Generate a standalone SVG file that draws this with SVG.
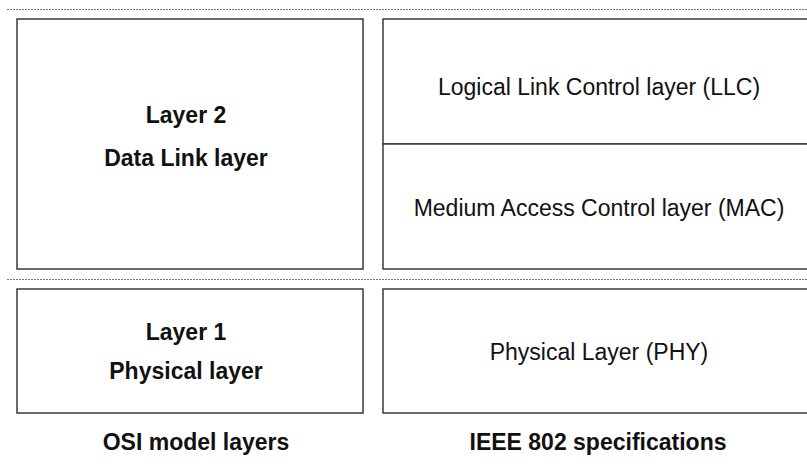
<svg xmlns="http://www.w3.org/2000/svg" width="807" height="464" viewBox="0 0 807 464">
<style>
.box{fill:#fff;stroke:#3a3a3a;stroke-width:1.5}
.sep{stroke:#777;stroke-width:1;stroke-dasharray:2 1;fill:none}
text{font-family:"Liberation Sans",Arial,sans-serif;font-size:23px;fill:#111;text-anchor:middle}
.b{font-weight:bold}
</style>
<rect width="807" height="464" fill="#fff"/>
<g id="separators">
<line class="sep" x1="7" y1="9.5" x2="807" y2="9.5"/>
<line class="sep" x1="7" y1="279.5" x2="807" y2="279.5"/>
</g>
<g id="layer2">
<rect class="box" x="17" y="19" width="346" height="250"/>
<text class="b" x="186" y="123">Layer 2</text>
<text class="b" x="186" y="166">Data Link layer</text>
</g>
<g id="llc">
<rect class="box" x="383" y="19" width="430" height="125"/>
<text x="599" y="95">Logical Link Control layer (LLC)</text>
</g>
<g id="mac">
<rect class="box" x="383" y="144" width="430" height="125"/>
<text x="599" y="216">Medium Access Control layer (MAC)</text>
</g>
<g id="layer1">
<rect class="box" x="17" y="289" width="346" height="124"/>
<text class="b" x="186" y="340">Layer 1</text>
<text class="b" x="186" y="379">Physical layer</text>
</g>
<g id="phy">
<rect class="box" x="383" y="289" width="430" height="124"/>
<text x="599" y="360">Physical Layer (PHY)</text>
</g>
<g id="captions">
<text class="b" x="196" y="450">OSI model layers</text>
<text class="b" x="598" y="450">IEEE 802 specifications</text>
</g>
</svg>
